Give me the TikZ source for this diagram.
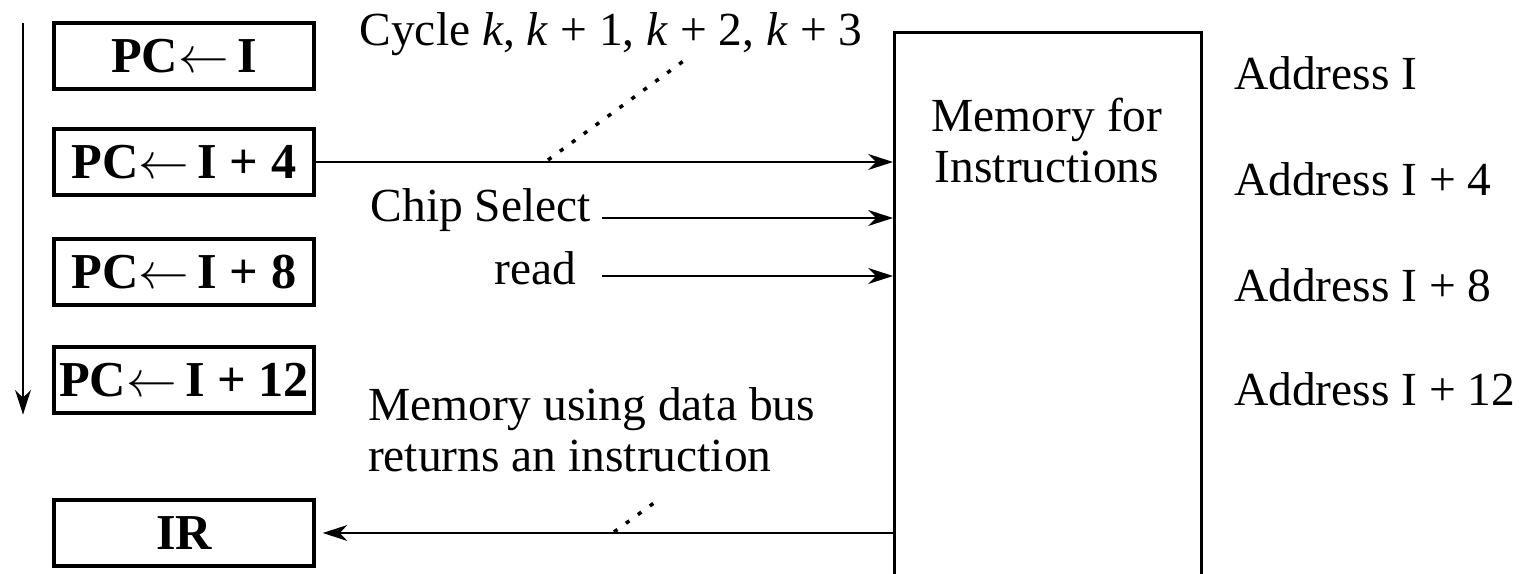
\documentclass[tikz,border=0pt]{standalone}
\usepackage{fontspec}
\setmainfont{Liberation Serif}
\usetikzlibrary{arrows.meta}

\begin{document}
\begin{tikzpicture}[x=0.01cm, y=-0.01cm,
		>={Stealth[length=7pt,width=4.5pt,inset=2.2pt]},
		line width=0.6pt,
		pcbox/.style={draw, line width=0.9pt, minimum width=2.6cm, minimum height=0.66cm, inner sep=0pt, font=\fontsize{14.3}{16}\selectfont\bfseries},
		lbl/.style={inner sep=0pt, font=\fontsize{13.5}{14.7}\selectfont},
		leader/.style={line width=1pt, dash pattern=on 1.2pt off 3pt}]
		\useasboundingbox (0,0) rectangle (1524,574);
		
		% program counter steps and the instruction register
		\node[pcbox] (pc0) at (184,56) {PC$\leftarrow$\,I};
		\node[pcbox] (pc4) at (184,162) {PC$\leftarrow$\,I + 4};
		\node[pcbox] (pc8) at (184,272) {PC$\leftarrow$\,I + 8};
		\node[pcbox] (pc12) at (184,380) {PC$\leftarrow$\,I + 12};
		\node[pcbox] (ir) at (184,533) {IR};
		\coordinate (seqtop) at (23,23);
		\draw[->] (seqtop) -- (seqtop |- pc12.south);
		
		% memory block, open at the bottom edge
		\node[draw, line width=0.8pt, minimum width=3.07cm, minimum height=5.8cm, anchor=north west, inner sep=0pt] (mem) at (893,31) {};
		\node[lbl, align=center, anchor=base] (memtxt) at (1047,183) {Memory for\\Instructions};
		
		\node[lbl, anchor=base west] (addr0) at (1233,90) {Address I};
		\node[lbl, anchor=base west] (addr4) at (1233,196) {Address I + 4};
		\node[lbl, anchor=base west] (addr8) at (1233,302) {Address I + 8};
		\node[lbl, anchor=base west] (addr12) at (1233,406) {Address I + 12};
		
		% control signals
		\node[lbl, anchor=base] (cycle) at (611,46) {Cycle \textit{k}, \textit{k} + 1, \textit{k} + 2, \textit{k} + 3};
		\node[lbl, anchor=base east] (cs) at (592,222) {Chip Select};
		\node[lbl, anchor=base east] (rd) at (577,285) {read};
		\node[lbl, align=left, anchor=base west] (bus) at (367,472) {Memory using data bus\\returns an instruction};
		
		\coordinate (csin) at (602,218);
		\coordinate (rdin) at (602,276);
		\draw[->] (pc4.east) -- (pc4.east -| mem.west);
		\draw[->] (csin) -- (csin -| mem.west);
		\draw[->] (rdin) -- (rdin -| mem.west);
		\draw[->, shorten >=2pt] (ir.east -| mem.west) -- (ir.east);
		
		% dotted leaders to the labels
		\coordinate (cycfoot) at (548,160);
		\coordinate (cyctip) at (689,57);
		\coordinate (busfoot) at (614,532);
		\coordinate (bustip) at (658,500);
		\draw[leader] (cycfoot) -- (cyctip);
		\draw[leader] (busfoot) -- (bustip);
	\end{tikzpicture}
\end{document}
